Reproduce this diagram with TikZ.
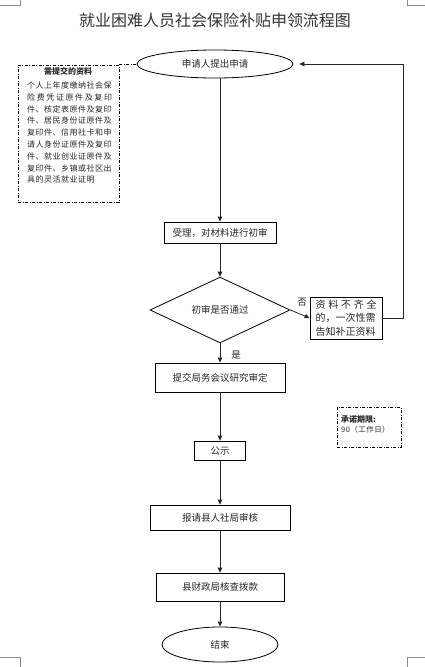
\documentclass[tikz,border=0pt]{standalone}
\usepackage{fontspec}
\usetikzlibrary{shapes.geometric,arrows.meta}
\newfontfamily\cjk{Noto Sans CJK SC}
\newfontfamily\cjkls[LetterSpace=6]{Noto Sans CJK SC}
\begin{document}
\begin{tikzpicture}[x=1pt,y=-1pt,
  every node/.style={font=\cjk\fontsize{9.5}{12}\selectfont, inner sep=0pt, text=black!85},
  pbox/.style={draw=black, line width=0.8pt, rectangle},
  arr/.style={draw=black!85, line width=0.8pt, -{Triangle[length=5pt,width=4.5pt]}},
  dd/.style={draw=black, line width=0.8pt, dash pattern=on 3pt off 1.5pt on 1pt off 1.5pt},
  crop/.style={draw=black!45, line width=0.5pt},
]
\useasboundingbox (0,0) rectangle (425,667);
% crop marks
\draw[crop] (0,5) -- (20,5) -- (20,0);
\draw[crop] (407,0) -- (407,5) -- (425,5);
\draw[crop] (0,657) -- (20,657) -- (20,667);
\draw[crop] (425,657) -- (407,657) -- (407,667);

\node[font=\cjk\fontsize{16}{18}\selectfont, text=black!80] (title) at (215,20) {就业困难人员社会保险补贴申领流程图};

\node[draw, ellipse, line width=0.8pt, minimum width=156pt, minimum height=28pt] (e1) at (215,64) {申请人提出申请};

\node[dd, minimum width=101pt, minimum height=137pt] (mat) at (68.5,133.5) {};
\node[font=\cjk\fontsize{8}{10}\selectfont\bfseries] (mattitle) at (68,71) {需提交的资料};
\node[anchor=north west, align=left, font=\cjkls\fontsize{8}{11.8}\selectfont] (mattext) at (27,81.5) {%
个人上年度缴纳社会保\\
\makebox[84.8pt][s]{险\hfil 费\hfil 凭\hfil 证\hfil 原\hfil 件\hfil 及\hfil 复\hfil 印}\\
件、核定表原件及复印\\
件、居民身份证原件及\\
复印件、信用社卡和申\\
请人身份证原件及复印\\
件、就业创业证原件及\\
复印件、乡镇或社区出\\
具的灵活就业证明};

\node[pbox, minimum width=112pt, minimum height=21pt] (b1) at (220,232.5) {受理，对材料进行初审};
\node[draw, diamond, line width=0.8pt, minimum width=140pt, minimum height=44pt] (d1) at (220,310) {初审是否通过};
\node[pbox, minimum width=72pt, minimum height=42pt, align=left, font=\cjk\fontsize{10}{13.5}\selectfont] (b2) at (346,318) {%
\makebox[61pt][s]{资\hfil 料\hfil 不\hfil 齐\hfil 全}\\的，一次性需\\告知补正资料};
\node[pbox, minimum width=130pt, minimum height=29pt] (b3) at (220,377.5) {提交局务会议研究审定};
\node[pbox, minimum width=51pt, minimum height=19pt] (b4) at (220,450.5) {公示};
\node[pbox, minimum width=140pt, minimum height=25pt] (b5) at (220,517.5) {报请县人社局审核};
\node[pbox, minimum width=128pt, minimum height=28pt] (b6) at (220,587) {县财政局核查拨款};
\node[draw, ellipse, line width=0.8pt, minimum width=116pt, minimum height=35pt] (e2) at (220,644.5) {结束};

\node[dd, minimum width=64pt, minimum height=40pt] (prom) at (369,427) {};
\node[anchor=west, font=\cjk\fontsize{8}{10}\selectfont\bfseries] (promt) at (341,419.5) {承诺期限:};
\node[anchor=west, font=\cjkls\fontsize{7.5}{10}\selectfont] (promv) at (341,430) {90（工作日）};

\node (no) at (302,302) {否};
\node (yes) at (236,355) {是};

% connectors
\draw[dd] (mat.north east) -- (mat.north east -| e1.west);
\draw[arr] (e1.south -| b1.north) -- (b1.north);
\draw[arr] (b1.south) -- (d1.north);
\draw[arr] (d1.east) -- (b2.west);
\draw[arr] (d1.south) -- (b3.north);
\draw[arr] (b3.south) -- (b4.north);
\draw[arr] (b4.south) -- (b5.north);
\draw[arr] (b5.south) -- (b6.north);
\draw[arr] (b6.south) -- (e2.north);
\coordinate (rt) at (403,318);
\draw[arr, shorten >=6pt] (b2.east) -- (rt) |- (e1.east);
\end{tikzpicture}
\end{document}
